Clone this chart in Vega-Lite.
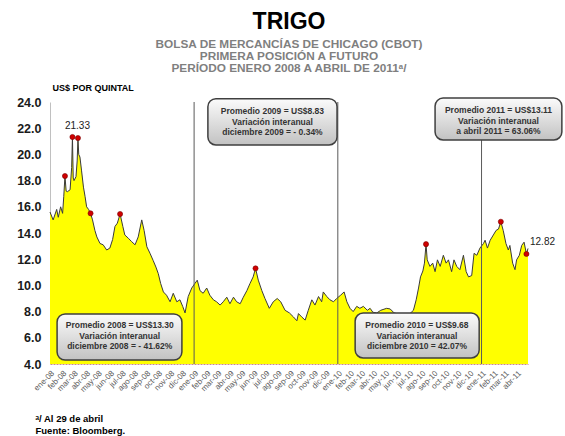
{
  "$schema": "https://vega.github.io/schema/vega-lite/v6.json",
  "width": 478,
  "height": 262,
  "autosize": {"type": "none"},
  "padding": {"left": 50, "top": 102, "right": 37, "bottom": 72},
  "background": "white",
  "config": {"view": {"stroke": null}, "font": "Liberation Sans"},
  "title": {
    "text": "TRIGO",
    "subtitle": ["BOLSA DE MERCANCÍAS DE CHICAGO (CBOT)", "PRIMERA POSICIÓN A FUTURO", "PERÍODO ENERO 2008 A ABRIL DE 2011ᵃ/"],
    "anchor": "middle",
    "font": "Liberation Sans",
    "fontSize": 23,
    "fontWeight": "bold",
    "color": "#000000",
    "subtitleFont": "Liberation Sans",
    "subtitleFontSize": 11.8,
    "subtitleFontWeight": "bold",
    "subtitleColor": "#7f7f7f",
    "subtitleLineHeight": 12.3,
    "subtitlePadding": 5,
    "offset": 8
  },
  "datasets": {
    "serie": [
      {"d": "2008-01-01", "v": 15.6}, {"d": "2008-01-09", "v": 15.0}, {"d": "2008-01-18", "v": 15.8}, {"d": "2008-01-22", "v": 15.2},
      {"d": "2008-01-28", "v": 16.0}, {"d": "2008-02-02", "v": 15.5}, {"d": "2008-02-05", "v": 16.8}, {"d": "2008-02-08", "v": 18.35},
      {"d": "2008-02-11", "v": 17.2}, {"d": "2008-02-14", "v": 17.15}, {"d": "2008-02-21", "v": 17.3}, {"d": "2008-02-25", "v": 19.0},
      {"d": "2008-02-27", "v": 21.33}, {"d": "2008-02-29", "v": 18.2}, {"d": "2008-03-02", "v": 18.0}, {"d": "2008-03-07", "v": 18.3},
      {"d": "2008-03-10", "v": 19.5}, {"d": "2008-03-12", "v": 21.25}, {"d": "2008-03-14", "v": 20.0}, {"d": "2008-03-17", "v": 19.8},
      {"d": "2008-03-21", "v": 18.8}, {"d": "2008-03-26", "v": 17.5}, {"d": "2008-03-30", "v": 16.8}, {"d": "2008-04-03", "v": 16.0},
      {"d": "2008-04-08", "v": 15.8}, {"d": "2008-04-13", "v": 15.5}, {"d": "2008-04-18", "v": 15.0}, {"d": "2008-04-24", "v": 14.2},
      {"d": "2008-04-29", "v": 13.7}, {"d": "2008-05-07", "v": 13.2}, {"d": "2008-05-15", "v": 13.1}, {"d": "2008-05-24", "v": 12.7},
      {"d": "2008-06-01", "v": 12.85}, {"d": "2008-06-08", "v": 13.5}, {"d": "2008-06-14", "v": 14.5}, {"d": "2008-06-20", "v": 14.75},
      {"d": "2008-06-27", "v": 15.45}, {"d": "2008-07-04", "v": 14.5}, {"d": "2008-07-09", "v": 13.85}, {"d": "2008-07-18", "v": 13.6},
      {"d": "2008-07-26", "v": 13.35}, {"d": "2008-08-04", "v": 13.1}, {"d": "2008-08-12", "v": 13.7}, {"d": "2008-08-21", "v": 15.0},
      {"d": "2008-08-27", "v": 14.2}, {"d": "2008-09-03", "v": 12.95}, {"d": "2008-09-11", "v": 12.45}, {"d": "2008-09-19", "v": 11.9},
      {"d": "2008-09-26", "v": 11.4}, {"d": "2008-10-02", "v": 10.9}, {"d": "2008-10-08", "v": 10.15}, {"d": "2008-10-15", "v": 9.5},
      {"d": "2008-10-23", "v": 9.25}, {"d": "2008-11-01", "v": 8.75}, {"d": "2008-11-09", "v": 9.4}, {"d": "2008-11-18", "v": 8.75},
      {"d": "2008-11-26", "v": 8.9}, {"d": "2008-12-03", "v": 8.4}, {"d": "2008-12-09", "v": 7.9}, {"d": "2008-12-17", "v": 9.15},
      {"d": "2008-12-26", "v": 9.8}, {"d": "2009-01-03", "v": 10.15}, {"d": "2009-01-09", "v": 10.4}, {"d": "2009-01-16", "v": 9.6},
      {"d": "2009-01-24", "v": 9.4}, {"d": "2009-02-02", "v": 9.8}, {"d": "2009-02-10", "v": 9.25}, {"d": "2009-02-19", "v": 8.9},
      {"d": "2009-02-27", "v": 8.75}, {"d": "2009-03-08", "v": 8.5}, {"d": "2009-03-16", "v": 8.75}, {"d": "2009-03-25", "v": 9.1},
      {"d": "2009-04-02", "v": 8.6}, {"d": "2009-04-11", "v": 9.1}, {"d": "2009-04-19", "v": 8.75}, {"d": "2009-04-28", "v": 8.6},
      {"d": "2009-05-06", "v": 9.1}, {"d": "2009-05-15", "v": 9.6}, {"d": "2009-05-23", "v": 10.15}, {"d": "2009-05-31", "v": 10.65},
      {"d": "2009-06-06", "v": 11.3}, {"d": "2009-06-13", "v": 10.4}, {"d": "2009-06-22", "v": 9.6}, {"d": "2009-06-30", "v": 9.0},
      {"d": "2009-07-11", "v": 8.25}, {"d": "2009-07-21", "v": 8.75}, {"d": "2009-07-31", "v": 9.0}, {"d": "2009-08-09", "v": 8.75},
      {"d": "2009-08-20", "v": 8.1}, {"d": "2009-08-31", "v": 7.9}, {"d": "2009-09-10", "v": 7.6}, {"d": "2009-09-19", "v": 7.3},
      {"d": "2009-09-23", "v": 7.85}, {"d": "2009-10-01", "v": 7.6}, {"d": "2009-10-10", "v": 7.35}, {"d": "2009-10-18", "v": 8.1},
      {"d": "2009-10-27", "v": 8.9}, {"d": "2009-11-04", "v": 8.5}, {"d": "2009-11-13", "v": 9.15}, {"d": "2009-11-21", "v": 8.75},
      {"d": "2009-11-25", "v": 9.5}, {"d": "2009-12-04", "v": 9.15}, {"d": "2009-12-12", "v": 8.9}, {"d": "2009-12-21", "v": 8.75},
      {"d": "2009-12-29", "v": 9.0}, {"d": "2010-01-08", "v": 9.25}, {"d": "2010-01-17", "v": 9.5}, {"d": "2010-01-24", "v": 8.75},
      {"d": "2010-02-01", "v": 8.25}, {"d": "2010-02-09", "v": 8.0}, {"d": "2010-02-18", "v": 8.4}, {"d": "2010-02-26", "v": 8.25},
      {"d": "2010-03-07", "v": 8.4}, {"d": "2010-03-17", "v": 8.1}, {"d": "2010-03-24", "v": 8.25}, {"d": "2010-03-31", "v": 7.95},
      {"d": "2010-04-10", "v": 7.9}, {"d": "2010-04-20", "v": 8.1}, {"d": "2010-05-05", "v": 8.25}, {"d": "2010-05-14", "v": 8.2},
      {"d": "2010-05-24", "v": 7.9}, {"d": "2010-06-05", "v": 7.8}, {"d": "2010-06-15", "v": 7.75}, {"d": "2010-06-25", "v": 7.7},
      {"d": "2010-07-05", "v": 7.9}, {"d": "2010-07-12", "v": 8.1}, {"d": "2010-07-19", "v": 8.9}, {"d": "2010-07-25", "v": 9.8},
      {"d": "2010-07-30", "v": 10.65}, {"d": "2010-08-05", "v": 11.1}, {"d": "2010-08-09", "v": 11.7}, {"d": "2010-08-13", "v": 13.15},
      {"d": "2010-08-16", "v": 11.95}, {"d": "2010-08-23", "v": 11.45}, {"d": "2010-08-30", "v": 11.7}, {"d": "2010-09-05", "v": 11.05},
      {"d": "2010-09-11", "v": 11.95}, {"d": "2010-09-18", "v": 11.45}, {"d": "2010-09-26", "v": 12.3}, {"d": "2010-10-03", "v": 11.7},
      {"d": "2010-10-09", "v": 11.95}, {"d": "2010-10-17", "v": 11.05}, {"d": "2010-10-23", "v": 11.95}, {"d": "2010-10-30", "v": 11.45},
      {"d": "2010-11-07", "v": 11.2}, {"d": "2010-11-16", "v": 12.3}, {"d": "2010-11-23", "v": 11.05}, {"d": "2010-11-29", "v": 10.65},
      {"d": "2010-12-07", "v": 10.75}, {"d": "2010-12-13", "v": 12.45}, {"d": "2010-12-20", "v": 12.3}, {"d": "2010-12-28", "v": 12.85},
      {"d": "2011-01-06", "v": 13.2}, {"d": "2011-01-10", "v": 13.45}, {"d": "2011-01-16", "v": 12.85}, {"d": "2011-01-23", "v": 13.45},
      {"d": "2011-01-31", "v": 13.85}, {"d": "2011-02-07", "v": 14.2}, {"d": "2011-02-13", "v": 14.3}, {"d": "2011-02-19", "v": 14.86},
      {"d": "2011-02-25", "v": 14.2}, {"d": "2011-03-04", "v": 13.2}, {"d": "2011-03-10", "v": 12.7}, {"d": "2011-03-14", "v": 13.05},
      {"d": "2011-03-21", "v": 11.7}, {"d": "2011-03-27", "v": 11.2}, {"d": "2011-03-31", "v": 11.95}, {"d": "2011-04-07", "v": 12.3},
      {"d": "2011-04-13", "v": 13.05}, {"d": "2011-04-19", "v": 13.3}, {"d": "2011-04-25", "v": 12.4}, {"d": "2011-04-29", "v": 12.82}
    ],
    "puntos": [
      {"d": "2008-02-08", "v": 18.35, "t": ""}, {"d": "2008-02-27", "v": 21.33, "t": "21.33"}, {"d": "2008-03-12", "v": 21.25, "t": ""},
      {"d": "2008-04-13", "v": 15.5, "t": ""}, {"d": "2008-06-27", "v": 15.45, "t": ""}, {"d": "2009-06-06", "v": 11.3, "t": ""},
      {"d": "2010-08-13", "v": 13.15, "t": ""}, {"d": "2011-02-19", "v": 14.86, "t": ""}, {"d": "2011-04-25", "v": 12.4, "t": ""}
    ],
    "ultimo": [{"d": "2011-04-29", "v": 12.82, "t": "12.82"}],
    "cortes": [{"d": "2009-01-01", "v": 24, "v2": 4}, {"d": "2010-01-01", "v": 24, "v2": 4}, {"d": "2011-01-01", "v": 24, "v2": 4}],
    "cuadros": [
      {"d": "2008-01-19", "d2": "2008-12-01", "v": 7.82, "v2": 4.3},
      {"d": "2009-02-05", "d2": "2009-12-30", "v": 24.25, "v2": 20.72},
      {"d": "2010-02-14", "d2": "2010-12-26", "v": 7.89, "v2": 4.46},
      {"d": "2010-09-05", "d2": "2011-07-24", "v": 24.3, "v2": 21.1}
    ],
    "textos": [
      {"d": "2008-06-26", "v": 6.96, "t": "Promedio 2008  = US$13.30|Variación interanual|diciembre 2008 = - 41.62%"},
      {"d": "2009-07-19", "v": 23.31, "t": "Promedio 2009 = US$8.83|Variación interanual|diciembre 2009 = - 0.34%"},
      {"d": "2010-07-21", "v": 6.96, "t": "Promedio 2010  = US$9.68|Variación interanual|diciembre 2010 = 42.07%"},
      {"d": "2011-02-13", "v": 23.36, "t": "Promedio 2011  = US$13.11|Variación interanual|a abril 2011 = 63.06%"}
    ]
  },
  "encoding": {
    "x": {
      "field": "d", "type": "temporal",
      "scale": {"type": "utc", "domain": [{"year": 2008, "month": 1, "date": 1, "utc": true}, {"year": 2011, "month": 4, "date": 29, "utc": true}]},
      "axis": {
        "title": ["ᵃ/ Al 29 de abril", "Fuente: Bloomberg."],
        "titleFontSize": 9.5, "titleFontWeight": "bold", "titleColor": "#000000",
        "titleAnchor": "start", "titleAlign": "left", "titleBaseline": "top",
        "titleX": -15, "titleY": 49, "titleLineHeight": 12,
        "tickCount": {"interval": "month", "step": 1},
        "labelExpr": "['ene','feb','mar','abr','may','jun','jul','ago','sep','oct','nov','dic'][utcmonth(datum.value)] + '-' + utcFormat(datum.value, '%y')",
        "labelAngle": -45, "labelFontSize": 8, "labelColor": "#595959",
        "labelPadding": 5, "labelOverlap": false, "labelFlush": false, "labelBound": false,
        "ticks": false, "grid": false,
        "domainColor": "#c98a8a", "domainDash": [2, 1], "domainWidth": 1.2
      }
    },
    "y": {
      "field": "v", "type": "quantitative",
      "scale": {"domain": [4, 24], "zero": false, "nice": false},
      "axis": {
        "title": "US$ POR QUINTAL", "titleAngle": 0, "titleAlign": "left", "titleBaseline": "middle",
        "titleX": 2, "titleY": -15, "titleFontSize": 9, "titleFontWeight": "bold", "titleColor": "#000000",
        "values": [4, 6, 8, 10, 12, 14, 16, 18, 20, 22, 24], "format": ".1f",
        "labelFontSize": 12.5, "labelFontWeight": "bold", "labelColor": "#1a1a1a", "labelPadding": 9,
        "labelOverlap": false, "labelFlush": false, "labelBound": false,
        "ticks": false, "grid": false, "domainColor": "#c0c0c0"
      }
    }
  },
  "layer": [
    {
      "data": {"name": "serie"},
      "mark": {"type": "area", "color": "#ffff00", "opacity": 1, "fillOpacity": 1, "line": {"color": "#3a3a3a", "strokeWidth": 1}},
      "encoding": {"y2": {"datum": 4}}
    },
    {
      "data": {"name": "cortes"},
      "mark": {"type": "rule", "color": "#5a5a5a", "strokeWidth": 1},
      "encoding": {"y2": {"field": "v2"}}
    },
    {
      "data": {"name": "puntos"},
      "mark": {"type": "circle", "size": 26, "fill": "#d00000", "stroke": "#7a0000", "strokeWidth": 0.6, "opacity": 1},
      "encoding": {}
    },
    {
      "data": {"name": "puntos"},
      "transform": [{"filter": "datum.t != ''"}],
      "mark": {"type": "text", "fontSize": 10, "color": "#222222", "dx": 5, "dy": -11, "align": "center", "baseline": "middle"},
      "encoding": {"text": {"field": "t"}}
    },
    {
      "data": {"name": "ultimo"},
      "mark": {"type": "text", "fontSize": 10, "color": "#222222", "dx": 2, "dy": -6, "align": "left", "baseline": "middle"},
      "encoding": {"text": {"field": "t"}}
    },
    {
      "data": {"name": "cuadros"},
      "mark": {
        "type": "rect", "cornerRadius": 8, "stroke": "#3f3f3f", "strokeWidth": 1.5, "clip": false,
        "fill": {"gradient": "linear", "x1": 0, "y1": 0, "x2": 0, "y2": 1, "stops": [{"offset": 0, "color": "#fbfbfb"}, {"offset": 1, "color": "#c2c2c2"}]}
      },
      "encoding": {"x2": {"field": "d2"}, "y2": {"field": "v2"}}
    },
    {
      "data": {"name": "textos"},
      "mark": {"type": "text", "lineBreak": "|", "fontSize": 8.5, "fontWeight": "bold", "color": "#333333", "align": "center", "baseline": "middle", "lineHeight": 10.5},
      "encoding": {"text": {"field": "t"}}
    }
  ]
}
